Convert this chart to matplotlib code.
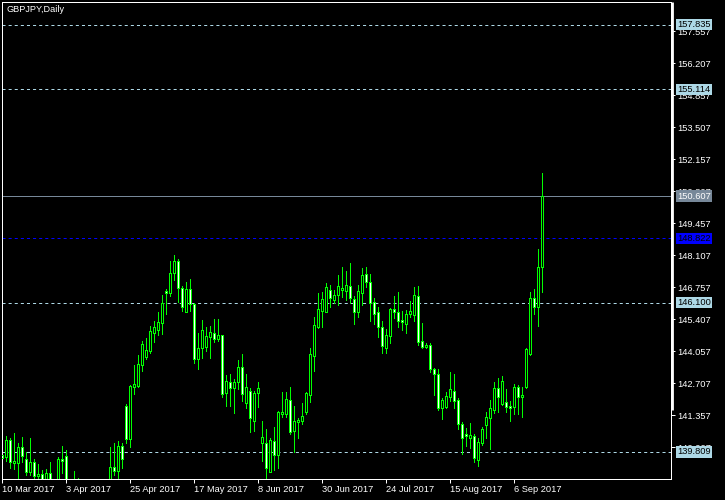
import numpy as np
import pandas as pd
import matplotlib
matplotlib.use("Agg")
import matplotlib.pyplot as plt
from matplotlib.lines import Line2D

plt.rcParams['font.family'] = ['Liberation Sans', 'DejaVu Sans']
plt.rcParams['lines.scale_dashes'] = False

title = "GBPJPY,Daily"
start_date = "2017-03-10"

opens = [139.68, 139.61, 140.31, 139.36, 139.36, 140.02, 139.51, 138.95, 139.37, 138.81,
         138.88, 138.54, 138.93, 138.45, 138.15, 139.51, 139.64, 138.20, 137.80, 138.10,
         137.70, 137.50, 136.80, 136.40, 136.20, 136.50, 136.30, 136.30, 139.16, 139.02,
         140.06, 141.75, 140.37, 142.54, 142.59, 143.48, 143.83, 144.08, 144.82, 144.96,
         145.26, 146.61, 146.51, 147.35, 147.87, 146.72, 145.73, 146.67, 146.04, 143.72,
         144.18, 144.25, 144.65, 144.82, 144.58, 144.73, 142.29, 142.77, 142.50, 142.75,
         143.38, 141.86, 142.39, 141.13, 142.29, 140.18, 140.18, 138.98, 140.27, 139.67,
         141.41, 141.42, 141.99, 140.71, 141.09, 141.13, 141.51, 142.21, 143.87, 145.08,
         145.77, 145.73, 146.63, 146.22, 146.45, 146.63, 146.61, 146.80, 146.25, 145.72,
         146.51, 147.32, 146.97, 146.13, 145.72, 145.10, 144.21, 144.70, 145.84, 145.70,
         145.38, 145.22, 145.62, 145.58, 146.38, 144.48, 144.23, 144.31, 143.30, 143.09,
         141.65, 141.69, 142.13, 142.37, 142.00, 140.98, 140.58, 140.41, 140.48, 139.48,
         140.18, 140.96, 141.23, 141.57, 142.51, 141.82, 141.91, 141.75, 141.72, 142.54,
         142.12, 142.56, 143.94, 146.29, 145.91, 147.63]

highs = [139.81, 140.48, 140.41, 140.61, 140.20, 140.45, 139.80, 140.39, 139.51, 139.30,
         139.05, 139.09, 139.39, 138.55, 139.60, 140.06, 139.89, 138.45, 139.02, 138.72,
         138.30, 137.90, 137.20, 136.90, 136.80, 136.90, 137.00, 140.01, 140.18, 140.28,
         140.18, 141.83, 142.64, 143.48, 143.90, 144.49, 144.61, 145.13, 145.34, 145.70,
         146.43, 146.67, 147.87, 148.12, 147.94, 146.81, 146.99, 147.11, 146.11, 144.82,
         145.38, 145.07, 145.13, 145.42, 145.42, 144.75, 143.06, 143.09, 142.88, 143.69,
         143.94, 143.10, 142.50, 142.39, 142.75, 141.12, 140.78, 140.39, 140.86, 141.55,
         142.33, 142.33, 142.55, 141.75, 141.23, 141.89, 142.35, 144.21, 145.51, 146.52,
         146.56, 146.95, 146.86, 146.64, 147.28, 147.62, 147.45, 147.77, 146.40, 146.86,
         147.56, 147.62, 147.32, 146.29, 145.94, 145.35, 145.00, 145.87, 146.39, 146.56,
         145.76, 145.80, 146.18, 146.78, 146.81, 145.25, 144.42, 144.42, 143.37, 143.31,
         142.10, 142.35, 143.18, 143.10, 142.07, 141.09, 140.81, 141.04, 140.56, 140.39,
         140.88, 141.51, 142.02, 142.76, 142.92, 143.03, 142.47, 141.97, 142.67, 142.64,
         142.56, 144.18, 146.56, 146.67, 148.37, 151.57]

lows = [139.43, 139.43, 139.12, 139.09, 138.54, 139.40, 138.84, 138.84, 138.50, 138.50,
        138.37, 138.42, 138.29, 137.95, 138.05, 138.93, 137.99, 137.60, 137.50, 137.40,
        137.20, 136.60, 136.00, 135.70, 135.80, 136.00, 135.60, 136.00, 138.84, 138.61,
        139.12, 140.18, 140.01, 142.26, 142.54, 143.24, 143.73, 144.00, 144.46, 144.75,
        144.79, 145.63, 146.40, 147.07, 146.15, 145.77, 145.71, 145.76, 143.58, 143.31,
        143.79, 144.08, 143.76, 144.46, 144.50, 142.11, 141.76, 141.76, 141.44, 142.48,
        141.97, 141.65, 140.66, 140.69, 141.72, 139.44, 138.67, 138.96, 139.05, 139.15,
        141.27, 141.27, 140.56, 139.82, 140.41, 140.98, 141.40, 141.93, 143.24, 145.03,
        145.10, 145.73, 145.94, 146.08, 146.01, 146.35, 146.22, 146.11, 145.21, 145.52,
        146.01, 146.76, 145.34, 145.20, 144.67, 144.00, 144.00, 144.42, 145.48, 145.08,
        144.96, 144.82, 145.52, 145.35, 144.32, 144.18, 144.18, 143.17, 142.21, 141.58,
        141.20, 141.65, 141.96, 141.68, 140.77, 139.72, 140.06, 139.99, 139.40, 139.23,
        140.10, 140.39, 139.93, 141.44, 141.51, 141.79, 141.51, 141.13, 141.40, 141.41,
        141.30, 142.52, 143.90, 145.63, 145.14, 146.57]

closes = [139.55, 140.31, 139.40, 139.44, 140.03, 139.64, 138.98, 139.37, 138.81, 138.88,
          138.58, 138.92, 138.46, 138.10, 139.51, 139.44, 138.20, 137.80, 138.10, 137.70,
          137.50, 136.80, 136.40, 136.20, 136.50, 136.30, 136.20, 139.16, 138.99, 140.06,
          139.50, 140.37, 142.59, 142.67, 143.51, 144.35, 144.10, 144.91, 145.07, 145.28,
          146.11, 146.51, 147.35, 147.87, 146.72, 145.94, 146.67, 146.04, 143.72, 144.18,
          144.96, 144.70, 144.86, 144.58, 144.75, 142.24, 142.80, 142.50, 142.75, 143.38,
          142.27, 142.54, 141.23, 142.29, 142.50, 140.43, 139.12, 140.31, 139.67, 141.48,
          141.50, 142.03, 140.66, 141.10, 141.16, 141.33, 142.30, 143.93, 145.15, 145.84,
          146.25, 146.76, 146.29, 146.43, 146.80, 146.72, 146.84, 146.32, 145.73, 146.60,
          147.28, 146.99, 146.08, 145.64, 145.10, 144.29, 144.73, 145.84, 145.70, 145.35,
          145.28, 145.62, 145.76, 146.43, 144.46, 144.23, 144.31, 143.30, 143.09, 141.68,
          142.00, 142.17, 142.45, 141.96, 140.98, 140.41, 140.50, 140.53, 139.54, 140.24,
          140.78, 141.27, 141.65, 142.52, 142.14, 142.79, 141.72, 141.68, 142.54, 142.12,
          142.21, 144.14, 146.29, 145.91, 147.63, 150.607]

price_ticks = [157.557, 156.207, 154.857, 153.507, 152.157, 150.807, 149.457,
               148.107, 146.757, 145.407, 144.057, 142.707, 141.357, 140.007]

level_values = [157.835, 155.114, 150.607, 148.822, 146.100, 139.809]
level_colors = ['#ADD8E6', '#ADD8E6', '#778899', '#0000FF', '#ADD8E6', '#ADD8E6']
level_styles = ['dash', 'dash', 'solid', 'dash', 'dash', 'dash']
level_text_colors = ['black', 'black', 'white', 'black', 'black', 'black']

date_tick_step = 16

# ---------------------------------------------------------------
W, H = 725, 500
GREEN = '#00FF00'
LW = 0.72  # one pixel at 100 dpi
fig = plt.figure(figsize=(W / 100, H / 100), dpi=100, facecolor='black')
ax_l, ax_r, ax_t, ax_b = 2, 671, 2, 479
ax = fig.add_axes([ax_l / W, (H - ax_b) / H, (ax_r - ax_l) / W, (ax_b - ax_t) / H])
ax.set_facecolor('black')

n = len(opens)
x = np.arange(n)
o = np.array(opens); c = np.array(closes)
hi = np.array(highs); lo = np.array(lows)
dates = pd.bdate_range(start_date, periods=n)

bull = c >= o
body_bottom = np.minimum(o, c)
body_h = np.abs(c - o)

ax.vlines(x, lo, hi, color=GREEN, lw=LW, zorder=2, antialiased=False)
ax.bar(x[bull], body_h[bull], bottom=body_bottom[bull], width=0.5,
       facecolor='black', edgecolor=GREEN, linewidth=LW, zorder=3, antialiased=False)
ax.bar(x[~bull], body_h[~bull], bottom=body_bottom[~bull], width=0.5,
       facecolor='white', edgecolor=GREEN, linewidth=LW, zorder=3, antialiased=False)

# pixel-consistent limits: candle i centred at 2.33 + 4*i px
px0 = 2.33
ax.set_xlim((ax_l - px0) / 4.0, (ax_r - px0) / 4.0)
ax.set_ylim(138.669, 158.793)

# horizontal levels
ytrans = ax.get_yaxis_transform()
for v, col, st, tc in zip(level_values, level_colors, level_styles, level_text_colors):
    if st == 'dash':
        ax.axhline(v, color=col, lw=LW, dashes=(2.2, 2.2), zorder=1.5)
    else:
        ax.axhline(v, color=col, lw=LW, zorder=1.5)
    ax.text((675 - ax_l) / (ax_r - ax_l) + 0.0035, v, f"{v:.3f}", transform=ytrans,
            ha='left', va='center', fontsize=6.7, color=tc, clip_on=False, zorder=10,
            bbox=dict(boxstyle='square,pad=0.12', fc=col, ec='none'))

# frame
for s in ax.spines.values():
    s.set_color('white')
    s.set_linewidth(LW)

# right price axis
ax.yaxis.tick_right()
ax.set_yticks(price_ticks)
ax.set_yticklabels([f"{t:.3f}" for t in price_ticks])
ax.tick_params(axis='y', colors='white', length=3, width=LW, labelsize=6.7, pad=1.2,
               direction='out')

# date axis
tick_idx = x[::date_tick_step]
ax.set_xticks(tick_idx)
ax.set_xticklabels([f"{d.day} {d.strftime('%b %Y')}" for d in dates[tick_idx]], ha='left')
ax.tick_params(axis='x', colors='white', length=3, width=LW, labelsize=6.7, pad=1.5,
               direction='out')

# thicker upper part of the right border
fig.add_artist(Line2D([672.2 / W, 672.2 / W], [1 - 2 / H, 1 - 410 / H],
                      color='white', lw=2.0, solid_capstyle='butt'))

fig.text(6.7 / W, 1 - 10 / H, title, color='white', fontsize=6.6, ha='left', va='center')

fig.savefig('out.png', dpi=100, facecolor='black')
